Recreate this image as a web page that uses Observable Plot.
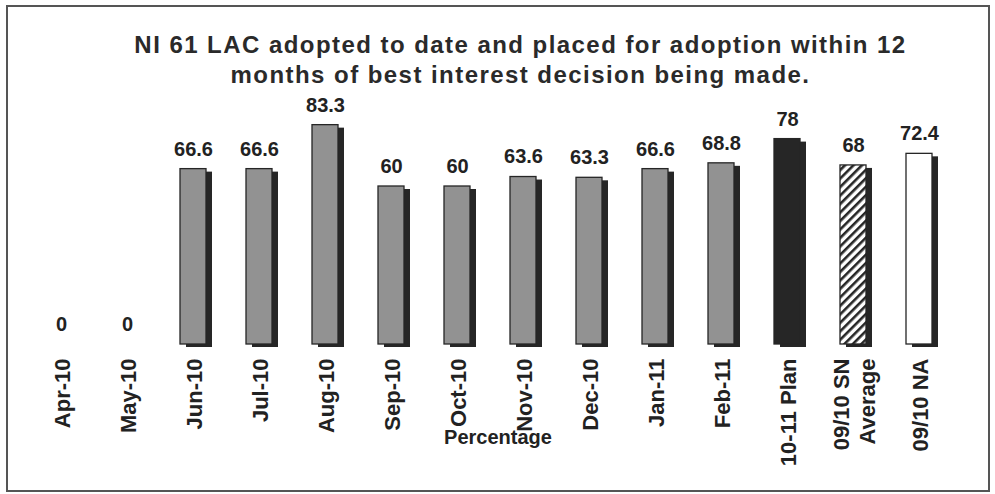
<!DOCTYPE html>
<html>
<head>
<meta charset="utf-8">
<script src="https://cdn.jsdelivr.net/npm/d3@7"></script>
<script src="https://cdn.jsdelivr.net/npm/@observablehq/plot@0.6"></script>
<style>
  body { margin: 0; background: #fff; font-family: "Liberation Sans", Arial, sans-serif; }
  #wrap { position: relative; width: 995px; height: 494px; overflow: hidden; }
  #frame { position: absolute; left: 6px; top: 5px; width: 984px; height: 487px; box-sizing: border-box; border: 2px solid #555; pointer-events: none; }
  #title { height: 92px; box-sizing: border-box; padding-top: 30px; padding-left: 46px; text-align: center;
           font-size: 24px; line-height: 30px; font-weight: bold; letter-spacing: 1.45px; color: #2a2a2a; white-space: pre-line; }
  #chart svg { display: block; }
</style>
</head>
<body>
<div id="wrap">
  <div id="title"></div>
  <div id="chart"></div>
  <div id="frame"></div>
</div>
<script>
const titleText = "NI 61 LAC adopted to date and placed for adoption within 12\nmonths of best interest decision being made.";
const axisLabel = "Percentage";
const categories = ["Apr-10", "May-10", "Jun-10", "Jul-10", "Aug-10", "Sep-10", "Oct-10", "Nov-10", "Dec-10", "Jan-11", "Feb-11", "10-11 Plan", "09/10 SN\nAverage", "09/10 NA"];
const values = [0, 0, 66.6, 66.6, 83.3, 60, 60, 63.6, 63.3, 66.6, 68.8, 78, 68, 72.4];
const kinds = ["month", "month", "month", "month", "month", "month", "month", "month", "month", "month", "month", "plan", "average", "na"];
const fillFor = { month: "#929292", plan: "#262626", average: "url(#hatch)", na: "#ffffff" };

document.getElementById("title").textContent = titleText;

const data = categories.map((c, i) => ({ cat: c, value: values[i], kind: kinds[i] }));
const textFill = "#222";

const chart = Plot.plot({
  width: 995,
  height: 402,
  marginTop: 15,
  marginBottom: 150,
  marginLeft: 24,
  marginRight: 38,
  x: { domain: categories, paddingInner: 0.6, paddingOuter: 0.3, axis: null },
  y: { domain: [0, 90], axis: null },
  color: { type: "identity" },
  style: { fontFamily: "'Liberation Sans', Arial, sans-serif", background: "transparent", overflow: "visible" },
  marks: [
    Plot.barY(data.filter(d => d.value > 0), { x: "cat", y: "value", fill: "#262626", dx: 6, dy: 3 }),
    Plot.barY(data.filter(d => d.value > 0), { x: "cat", y: "value", fill: d => fillFor[d.kind], stroke: "#262626", strokeWidth: 1.3 }),
    Plot.text(data, { x: "cat", y: "value", text: d => String(d.value), dy: -20, fontSize: 20, fontWeight: "bold", fill: textFill }),
    Plot.text(data, { x: "cat", y: () => 0, text: "cat", rotate: -90, textAnchor: "end", lineAnchor: "middle", lineHeight: 1.2, dy: 14, fontSize: 22, fontWeight: "bold", fill: textFill }),
    Plot.text([axisLabel], { frameAnchor: "bottom", text: d => d, lineAnchor: "middle", dx: 7, dy: 93, fontSize: 20, fontWeight: "bold", fill: textFill })
  ]
});

d3.select(chart).insert("defs", ":first-child").html(
  '<pattern id="hatch" patternUnits="userSpaceOnUse" width="6" height="6" patternTransform="rotate(45)">' +
  '<rect x="0" y="0" width="6" height="6" fill="#ffffff"></rect>' +
  '<rect x="0" y="0" width="2.6" height="6" fill="#262626"></rect></pattern>'
);

document.getElementById("chart").appendChild(chart);
</script>
</body>
</html>
